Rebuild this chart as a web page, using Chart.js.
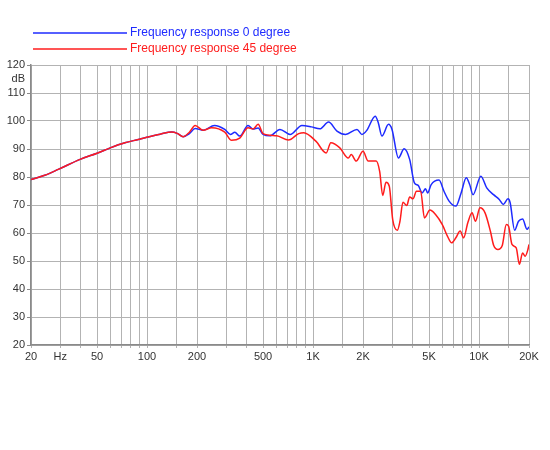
<!DOCTYPE html>
<html>
<head>
<meta charset="utf-8">
<script src="https://cdn.jsdelivr.net/npm/chart.js@4"></script>
<style>
  body { margin: 0; background: #fff; }
  #wrap { width: 550px; height: 450px; position: relative; }
</style>
</head>
<body>
<div id="wrap"><canvas id="fr"></canvas></div>
<script>
// frequency response
var freq0 = [20, 24.2, 29.2, 39.5, 50, 60, 73.5, 88.6, 97, 120, 141, 152, 165, 180, 195, 218, 255, 294, 318, 338, 362, 406, 435, 467, 500, 550, 632, 728, 857, 977, 1100, 1240, 1394, 1570, 1840, 1970, 2110, 2370, 2470, 2600, 2850, 2990, 3270, 3540, 3820, 4080, 4300, 4540, 4760, 4900, 5150, 5740, 6150, 6600, 7250, 7800, 8380, 8780, 9200, 10260, 11130, 12230, 13240, 14000, 14950, 15400, 16380, 17300, 18300, 19470, 20000];
var db0 = [79.1, 80.6, 82.7, 86.3, 88.5, 90.4, 92.2, 93.4, 94, 95.3, 96.1, 95.6, 94.4, 95.5, 97.3, 96.7, 98.4, 97, 95.2, 96, 94.6, 98.4, 97.1, 97.5, 95.2, 94.7, 97, 95.2, 98.4, 97.9, 97.2, 99.6, 96.4, 95.2, 97, 95.2, 96.7, 101.7, 99.5, 94.6, 98.8, 97, 86.8, 90.1, 86.3, 77.9, 77, 74.3, 75.8, 74.3, 77.3, 78.9, 74.9, 71.4, 69.6, 74.3, 79.7, 77.3, 73.7, 80.3, 76.1, 73.7, 72, 70.2, 72.2, 70.8, 61, 64.2, 65, 61.3, 62.2];

var freq45 = [20, 24.2, 29.2, 39.5, 50, 60, 73.5, 88.6, 97, 120, 141, 152, 165, 180, 195, 218, 245, 294, 323, 362, 406, 435, 467, 500, 604, 712, 820, 880, 1040, 1200, 1280, 1450, 1630, 1700, 1820, 2000, 2150, 2400, 2520, 2630, 2750, 2880, 3020, 3220, 3340, 3480, 3670, 3820, 4000, 4200, 4450, 4690, 5060, 5470, 6010, 6450, 6840, 7250, 7700, 8080, 8550, 9080, 9520, 10130, 10870, 11700, 12260, 13000, 13800, 14600, 15070, 15800, 16750, 17500, 18300, 18960, 19700, 20000];
var db45 = [79.1, 80.6, 82.7, 86.3, 88.5, 90.4, 92.2, 93.4, 94, 95.3, 96.1, 95.6, 94.4, 96, 98.4, 96.7, 97.6, 96, 93.1, 93.9, 97.6, 97.1, 98.8, 95.5, 94.7, 93.2, 95.5, 95.8, 92.8, 88.6, 92.2, 90.4, 86.8, 88, 85.7, 89.2, 85.7, 85.7, 82, 73.4, 78.1, 76.7, 64.8, 61, 64.2, 71, 69.8, 72.9, 72.2, 74.9, 74.9, 65.4, 68.2, 66.6, 63, 58.9, 56.5, 58.3, 60.7, 58.3, 63.6, 67.2, 64.2, 69, 67.2, 60.7, 55.5, 54.1, 55.5, 63, 62.4, 55.9, 54.7, 48.8, 52.9, 51.7, 54.1, 55.9];

var xTicks = [20, 30, 40, 50, 60, 70, 80, 90, 100, 150, 200, 300, 400, 500, 600, 700, 800, 900, 1000, 1500, 2000, 3000, 4000, 5000, 6000, 7000, 8000, 9000, 10000, 15000, 20000];
var xLabels = { 20: '20', 30: 'Hz', 50: '50', 100: '100', 200: '200', 500: '500', 1000: '1K', 2000: '2K', 5000: '5K', 10000: '10K', 20000: '20K' };
var yTicks = [20, 30, 40, 50, 60, 70, 80, 90, 100, 110, 115, 120];

var seriesNames = ['Frequency response 0 degree', 'Frequency response 45 degree'];
var seriesColors = ['#1e2bff', '#ff1c1c'];

function toPoints(xs, ys) {
    return xs.map(function (x, i) { return { x: x, y: ys[i] }; });
}

// legend drawn by hand: long line sample followed by coloured text
var legendPlugin = {
    id: 'sideLegend',
    afterDraw: function (chart) {
        var ctx = chart.ctx;
        ctx.save();
        ctx.font = '12px "Liberation Sans", Arial, sans-serif';
        ctx.textBaseline = 'middle';
        seriesNames.forEach(function (name, i) {
            var y = 33 + i * 16;
            ctx.strokeStyle = seriesColors[i];
            ctx.lineWidth = 1.6;
            ctx.beginPath();
            ctx.moveTo(33, y);
            ctx.lineTo(127, y);
            ctx.stroke();
            ctx.fillStyle = seriesColors[i];
            ctx.fillText(name, 130, y);
        });
        ctx.restore();
    }
};

var gridGrey = '#b3b3b3';

new Chart(document.getElementById('fr'), {
    type: 'line',
    data: {
        datasets: [{
            label: seriesNames[0],
            data: toPoints(freq0, db0),
            borderColor: seriesColors[0],
            borderWidth: 1.5,
            pointRadius: 0,
            order: 1,
            cubicInterpolationMode: 'monotone'
        }, {
            label: seriesNames[1],
            data: toPoints(freq45, db45),
            borderColor: seriesColors[1],
            borderWidth: 1.5,
            pointRadius: 0,
            order: 0,
            cubicInterpolationMode: 'monotone'
        }]
    },
    options: {
        responsive: true,
        maintainAspectRatio: false,
        animation: false,
        layout: { padding: { top: 65, right: 21, bottom: 82, left: 0 } },
        plugins: {
            legend: { display: false },
            tooltip: { enabled: false }
        },
        scales: {
            x: {
                type: 'logarithmic',
                min: 20,
                max: 20000,
                afterBuildTicks: function (scale) {
                    scale.ticks = xTicks.map(function (v) { return { value: v }; });
                },
                afterFit: function (scale) { scale.height = 23; },
                ticks: {
                    autoSkip: false,
                    maxRotation: 0,
                    padding: 2,
                    color: '#333',
                    font: { family: '"Liberation Sans", Arial, sans-serif', size: 11 },
                    callback: function (v) { return xLabels[v] || ''; }
                },
                grid: { color: gridGrey, lineWidth: 1, tickLength: 3, tickColor: gridGrey },
                border: { color: '#8a8a8a', width: 1.5 }
            },
            y: {
                min: 20,
                max: 120,
                afterBuildTicks: function (scale) {
                    scale.ticks = yTicks.map(function (v) { return { value: v }; });
                },
                afterFit: function (scale) { scale.width = 31; },
                ticks: {
                    padding: 2,
                    color: '#333',
                    font: { family: '"Liberation Sans", Arial, sans-serif', size: 11 },
                    callback: function (v) { return v === 115 ? 'dB' : String(v); }
                },
                grid: {
                    lineWidth: 1,
                    tickLength: 4,
                    color: function (c) { return c.tick && c.tick.value === 115 ? 'rgba(0,0,0,0)' : gridGrey; },
                    tickColor: function (c) { return c.tick && c.tick.value === 115 ? 'rgba(0,0,0,0)' : '#8a8a8a'; }
                },
                border: { color: '#8a8a8a', width: 1.5 }
            }
        }
    },
    plugins: [legendPlugin]
});
</script>
</body>
</html>
